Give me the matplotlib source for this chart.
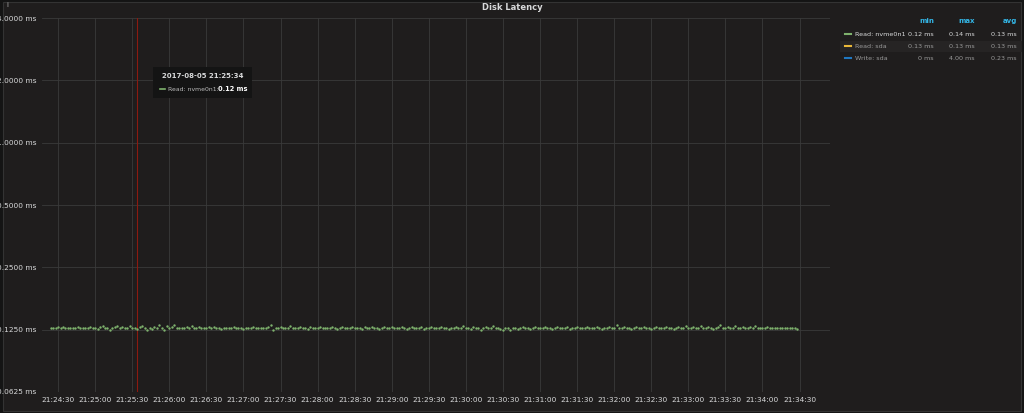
import matplotlib
matplotlib.use("Agg")
import matplotlib.pyplot as plt
import matplotlib.dates as mdates
from matplotlib.lines import Line2D
import datetime as dt

start = dt.datetime(2017, 8, 5, 21, 24, 24)
step_s = 2
read_nvme = [
 128,127,128,129,128,129,128,127,128,127,128,129,128,128,127,128,129,128,127,126,
 129,130,128,127,125,128,129,130,128,129,127,128,130,128,127,126,129,130,128,125,
 127,126,129,128,131,127,125,130,127,129,131,128,127,128,127,129,128,130,127,128,
 129,127,128,127,129,128,129,127,128,126,127,128,127,128,129,128,127,128,126,127,
 128,127,129,128,128,127,128,127,129,131,125,128,127,129,128,127,128,130,128,127,
 128,129,127,128,126,129,128,127,128,129,128,127,128,127,129,128,126,127,129,128,
 127,128,129,128,127,128,126,129,128,127,129,128,127,126,128,129,127,128,129,127,
 128,127,129,128,126,127,129,128,127,128,129,126,127,128,129,128,127,128,129,127,
 128,126,127,128,129,128,127,130,128,127,126,129,128,127,125,128,129,127,128,130,
 128,127,126,124,128,127,125,128,127,126,128,129,127,128,126,127,129,128,127,128,
 129,127,128,126,127,129,128,127,128,129,126,127,128,129,128,127,128,129,127,128,
 127,129,128,126,127,128,129,128,127,132,128,127,129,128,127,126,128,129,127,128,
 129,127,128,126,127,129,128,127,128,129,128,127,126,128,129,127,128,130,127,128,
 129,127,128,130,127,128,129,127,126,128,129,131,128,127,129,128,127,130,128,127,
 129,128,127,129,128,130,127,128,127,128,129,128,127,128,127,128,127,128,127,128,
 128,127,126,
]
ytick_vals = [0.0625, 0.125, 0.25, 0.5, 1.0, 2.0, 4.0]
ytick_labels = ["0.0625 ms", "0.1250 ms", "0.2500 ms", "0.5000 ms", "1.0000 ms", "2.0000 ms", "4.0000 ms"]
legend_names = ["Read: nvme0n1", "Read: sda", "Write: sda"]
legend_colors = ["#7eb26d", "#eab839", "#1f78c1"]
legend_min = ["0.12 ms", "0.13 ms", "0 ms"]
legend_max = ["0.14 ms", "0.13 ms", "4.00 ms"]
legend_avg = ["0.13 ms", "0.13 ms", "0.23 ms"]

times = [start + dt.timedelta(seconds=step_s * i) for i in range(len(read_nvme))]
vals = [v / 1000 for v in read_nvme]

W, H = 1024, 413
bg = "#1f1d1d"
fig = plt.figure(figsize=(10.24, 4.13), dpi=100, facecolor="#141414")
fig.patches.append(plt.Rectangle((0.003, 0.005), 0.994, 0.99, transform=fig.transFigure,
                                 facecolor=bg, edgecolor="#333", lw=0.8, zorder=-10))
ax = fig.add_axes([0.041, 0.051, 0.77, 0.905])
ax.set_facecolor(bg)
ax.set_yscale("log", base=2)
ax.set_ylim(0.0625, 4.0)
ax.set_yticks(ytick_vals)
ax.set_yticklabels(ytick_labels)
ax.minorticks_off()
ax.set_xlim(dt.datetime(2017, 8, 5, 21, 24, 17), dt.datetime(2017, 8, 5, 21, 34, 55))
ax.xaxis.set_major_locator(mdates.SecondLocator(bysecond=[0, 30]))
ax.xaxis.set_major_formatter(mdates.DateFormatter("%H:%M:%S"))
ax.tick_params(colors="#d8d9da", labelsize=5.3, length=0, pad=4)
for s in ax.spines.values():
    s.set_visible(False)
ax.grid(True, color="#3a3a3a", lw=0.6)
ax.scatter(times, vals, s=3, color="#7eb26d", zorder=3, linewidths=0)
ax.axvline(dt.datetime(2017, 8, 5, 21, 25, 34), color="#8b1a10", lw=0.8, zorder=2)

fig.text(0.5, 0.982, "Disk Latency", color="#d8d9da", fontsize=6, ha="center", va="center", weight="bold")
fig.text(0.006, 0.988, "i", color="#aaa", fontsize=5, ha="left", va="center")

# tooltip
tt = fig.add_axes([153 / W, 1 - 98 / H, 99 / W, 31 / H])
tt.set_facecolor("#141414"); tt.set_xticks([]); tt.set_yticks([])
for s in tt.spines.values(): s.set_visible(False)
tt.text(0.5, 0.72, "2017-08-05 21:25:34", color="#d8d9da", fontsize=5, weight="bold", ha="center", va="center", transform=tt.transAxes)
tt.add_line(Line2D([0.07, 0.12], [0.28, 0.28], color="#7eb26d", lw=1.2, transform=tt.transAxes))
tt.text(0.15, 0.28, "Read: nvme0n1:", color="#bbb", fontsize=4.4, ha="left", va="center", transform=tt.transAxes)
tt.text(0.95, 0.28, "0.12 ms", color="#fff", fontsize=4.8, weight="bold", ha="right", va="center", transform=tt.transAxes)

# legend table
hx = [934, 975, 1017]
for x, h in zip(hx, ["min", "max", "avg"]):
    fig.text(x / W, 1 - 21 / H, h, color="#33b5e5", fontsize=5, weight="bold", ha="right", va="center")
for i, (n, c) in enumerate(zip(legend_names, legend_colors)):
    y = 1 - (34 + 12 * i) / H
    tc = "#d8d9da" if i == 0 else "#999"
    if i == 1:
        fig.patches.append(plt.Rectangle((840 / W, y - 5.5 / H), 182 / W, 11 / H, transform=fig.transFigure,
                                         facecolor="#262424", edgecolor="none", zorder=-5))
    fig.lines.append(Line2D([845 / W, 851 / W], [y, y], color=c, lw=1.5, transform=fig.transFigure))
    fig.text(855 / W, y, n, color=tc, fontsize=4.6, ha="left", va="center")
    for x, v in zip(hx, [legend_min[i], legend_max[i], legend_avg[i]]):
        fig.text(x / W, y, v, color=tc, fontsize=4.6, ha="right", va="center")

fig.savefig("out.png", dpi=100, facecolor=fig.get_facecolor())
